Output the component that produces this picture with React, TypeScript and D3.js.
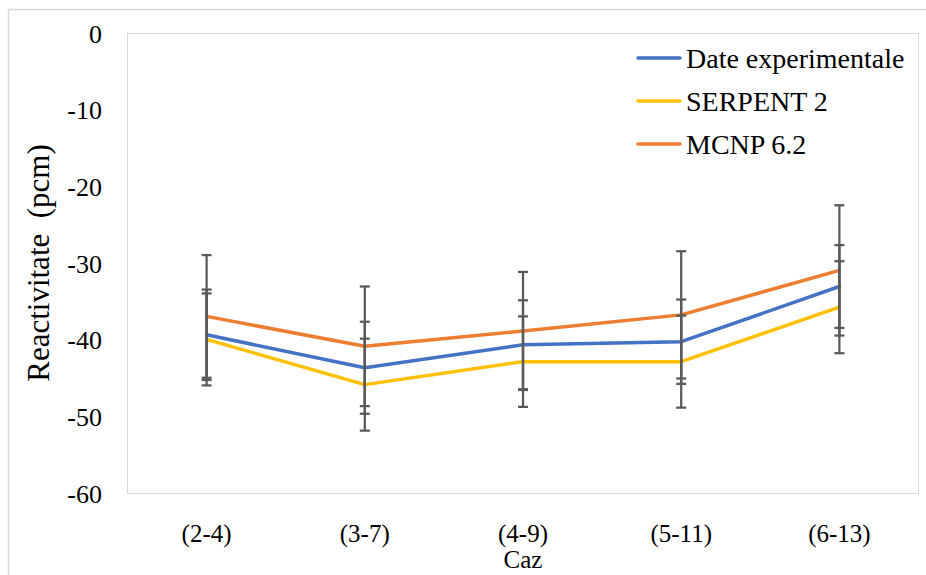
import React from 'react';
import * as d3 from 'd3';

const categories = ['(2-4)', '(3-7)', '(4-9)', '(5-11)', '(6-13)'];
const yTicks = [0, -10, -20, -30, -40, -50, -60];

const expValues = [-39.3, -43.6, -40.6, -40.2, -33.0];
const expErrors = [5.9, 6.0, 5.8, 5.5, 5.4];
const serpentValues = [-39.9, -45.8, -42.8, -42.8, -35.7];
const serpentErrors = [6.0, 6.0, 5.9, 6.0, 6.0];
const mcnpValues = [-36.9, -40.8, -38.8, -36.7, -30.9];
const mcnpErrors = [8.0, 7.8, 7.7, 8.3, 8.5];

const seriesNames = ['Date experimentale', 'SERPENT 2', 'MCNP 6.2'];
const seriesColors = ['#4472C4', '#FFC000', '#ED7D31'];

const W = 926;
const H = 575;
const plot = { left: 127.5, right: 918.5, top: 33.5, bottom: 493.5 };
const serif = { fontFamily: "'Liberation Serif', 'DejaVu Serif', serif" };

export default function App() {
  const x = d3.scaleBand<string>()
    .domain(categories)
    .range([plot.left, plot.right]);
  const y = d3.scaleLinear()
    .domain([-60, 0])
    .range([plot.bottom, plot.top]);

  const cx = (c: string) => (x(c) as number) + x.bandwidth() / 2;

  const series = [
    { name: seriesNames[0], color: seriesColors[0], values: expValues, errors: expErrors },
    { name: seriesNames[1], color: seriesColors[1], values: serpentValues, errors: serpentErrors },
    { name: seriesNames[2], color: seriesColors[2], values: mcnpValues, errors: mcnpErrors },
  ];

  const line = d3.line<number>()
    .x((_, i) => cx(categories[i]))
    .y(d => y(d));

  return (
    <svg width={W} height={H} style={{ position: 'absolute', left: 0, top: 0, background: '#fff' }}>
      <rect x={8.5} y={9.5} width={W} height={H} fill="#fff" stroke="#d9d9d9" strokeWidth={1.5} />
      <rect x={plot.left} y={plot.top} width={plot.right - plot.left} height={plot.bottom - plot.top}
        fill="none" stroke="#d9d9d9" strokeWidth={1} />

      {yTicks.map(t => (
        <text key={t} x={102} y={y(t)} dy="0.35em" textAnchor="end" fontSize={26} fill="#000" style={serif}>{t}</text>
      ))}

      {categories.map(c => (
        <text key={c} x={cx(c)} y={542} textAnchor="middle" fontSize={25} fill="#000" style={serif}>{c}</text>
      ))}

      <text x={cx(categories[2])} y={568} textAnchor="middle" fontSize={25} fill="#000" style={serif}>Caz</text>
      <text transform={`translate(49, 263) rotate(-90)`} textAnchor="middle" fontSize={31} fill="#000"
        style={{ ...serif, whiteSpace: 'pre' }}>{'Reactivitate  (pcm)'}</text>

      {series.map(s => (
        <path key={s.name} d={line(s.values) || ''} fill="none" stroke={s.color} strokeWidth={3.5}
          strokeLinejoin="round" strokeLinecap="round" />
      ))}

      {series.map(s => (
        <g key={s.name + '-err'} stroke="#595959" strokeWidth={2.25}>
          {s.values.map((v, i) => {
            const px = cx(categories[i]);
            const hi = y(v + s.errors[i]);
            const lo = y(v - s.errors[i]);
            return (
              <g key={i}>
                <line x1={px} x2={px} y1={hi} y2={lo} />
                <line x1={px - 5} x2={px + 5} y1={hi} y2={hi} />
                <line x1={px - 5} x2={px + 5} y1={lo} y2={lo} />
              </g>
            );
          })}
        </g>
      ))}

      {series.map((s, i) => (
        <g key={s.name + '-leg'} transform={`translate(0, ${58 + i * 43})`}>
          <line x1={638} x2={680} y1={0} y2={0} stroke={s.color} strokeWidth={3.5} strokeLinecap="round" />
          <text x={686} y={0} dy="0.35em" fontSize={28} fill="#000" style={serif}>{s.name}</text>
        </g>
      ))}
    </svg>
  );
}
